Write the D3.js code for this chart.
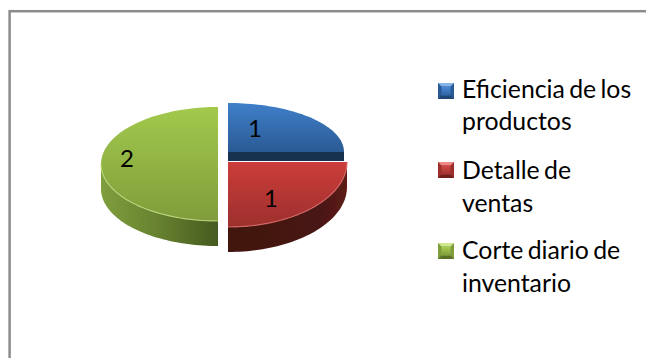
<!DOCTYPE html>
<html><head><meta charset="utf-8">
<script src="https://cdn.jsdelivr.net/npm/d3@7/dist/d3.min.js"></script>
<style>html,body{margin:0;padding:0;background:#fff}svg{display:block}</style>
</head><body><svg id="c" width="646" height="358"></svg>
<script>
const categories = ["Eficiencia de los productos", "Detalle de ventas", "Corte diario de inventario"];
const legendLines = [["Eficiencia de los", "productos"], ["Detalle de", "ventas"], ["Corte diario de", "inventario"]];
const values = [1, 1, 2];

const svg = d3.select("#c");
const defs = svg.append("defs");
function grad(id, stops, x2, y2) {
  const g = defs.append("linearGradient").attr("id", id).attr("x1", 0).attr("y1", 0).attr("x2", x2).attr("y2", y2);
  stops.forEach(s => g.append("stop").attr("offset", s[0]).attr("stop-color", s[1]));
}
grad("gB", [[0, "#3f7fc9"], [1, "#2a5a94"]], 0, 1);
grad("gR", [[0, "#cc3d3a"], [1, "#9c2f2d"]], 0, 1);
grad("gG", [[0, "#a2c94c"], [1, "#7f9d3b"]], 0, 1);
grad("sR", [[0, "#3f1210"], [0.75, "#481512"], [1, "#5e1c18"]], 1, 0);
grad("sG", [[0, "#7f9e3d"], [0.5, "#66812f"], [1, "#455a20"]], 1, 0);
grad("lB", [[0, "#4a8bd6"], [1, "#2f64a3"]], 0, 1);
grad("lR", [[0, "#d04a46"], [1, "#a03230"]], 0, 1);
grad("lG", [[0, "#a8cf55"], [1, "#7f9d3b"]], 0, 1);
defs.append("filter").attr("id", "soft").append("feGaussianBlur").attr("stdDeviation", 0.45);

const sliceStyle = [
  {cx: 228, cy: 152, rx: 116, ry: 49, depth: 9,  fill: "url(#gB)", side: "#163050", rim: null},
  {cx: 228, cy: 162, rx: 119, ry: 65, depth: 25, fill: "url(#gR)", side: "url(#sR)", rim: "#d96a66"},
  {cx: 218, cy: 164, rx: 117, ry: 57, depth: 25, fill: "url(#gG)", side: "url(#sG)", rim: "#bcd97c"}
];
const labelPos = [[255, 137], [271, 207], [127, 167]];

svg.append("rect").attr("x", 9.6).attr("y", 11.2).attr("width", 650).attr("height", 360)
  .attr("fill", "#fff").attr("stroke", "#8c8c8c").attr("stroke-width", 2.5);

const arcs = d3.pie().sort(null).startAngle(0).endAngle(2 * Math.PI)(values);
const rimPts = (a0, a1, s, dy) => d3.range(0, 49).map(i => {
  const a = a0 + (a1 - a0) * i / 48;
  return [s.cx + s.rx * Math.sin(a), s.cy + dy - s.ry * Math.cos(a)];
});
const line = d3.line();
const pie = svg.append("g").attr("filter", "url(#soft)");

[2, 1].forEach(i => {
  const s = sliceStyle[i], d = arcs[i];
  const lo = Math.max(d.startAngle, Math.PI / 2), hi = Math.min(d.endAngle, 3 * Math.PI / 2);
  const top = rimPts(lo, hi, s, 0), bot = rimPts(hi, lo, s, s.depth);
  pie.append("path").attr("d", line(top.concat(bot)) + "Z").attr("fill", s.side);
});
{
  const s = sliceStyle[0];
  pie.append("rect").attr("x", s.cx).attr("y", s.cy).attr("width", s.rx).attr("height", s.depth).attr("fill", s.side);
}
arcs.forEach((d, i) => {
  const s = sliceStyle[i];
  const pts = rimPts(d.startAngle, d.endAngle, s, 0);
  pie.append("path").attr("d", line([[s.cx, s.cy]].concat(pts)) + "Z").attr("fill", s.fill);
  if (s.rim) {
    const lo = Math.max(d.startAngle, Math.PI / 2), hi = Math.min(d.endAngle, 3 * Math.PI / 2);
    pie.append("path").attr("d", line(rimPts(lo, hi, s, 0))).attr("fill", "none")
      .attr("stroke", s.rim).attr("stroke-width", 1.2).attr("opacity", .85);
  }
});
arcs.forEach((d, i) => {
  svg.append("text").attr("x", labelPos[i][0]).attr("y", labelPos[i][1]).attr("text-anchor", "middle")
    .attr("font-family", "Lato").attr("font-size", 24).attr("fill", "#000").text(d.data);
});

const legendFills = ["url(#lB)", "url(#lR)", "url(#lG)"];
const bevels = [["#86b4e8", "#2a5a94", "#1f4675"], ["#ee8a86", "#9c2f2d", "#701f1d"], ["#cfe78e", "#7f9d3b", "#5a7029"]];
const legendTop = [83, 162, 243];
const baselines = [[98, 130], [179, 212], [259, 292]];
const m = 16, b = 3.5;
categories.forEach((c, i) => {
  const x = 438, y = legendTop[i];
  const g = svg.append("g").attr("class", "marker");
  g.append("rect").attr("x", x).attr("y", y).attr("width", m).attr("height", m).attr("fill", bevels[i][1]);
  g.append("path").attr("d", line([[x, y], [x + m, y], [x + m - b, y + b], [x + b, y + b]]) + "Z").attr("fill", bevels[i][0]);
  g.append("path").attr("d", line([[x, y + m], [x + m, y + m], [x + m - b, y + m - b], [x + b, y + m - b]]) + "Z").attr("fill", bevels[i][2]);
  g.append("rect").attr("x", x + b).attr("y", y + b).attr("width", m - 2 * b).attr("height", m - 2 * b).attr("fill", legendFills[i]);
  legendLines[i].forEach((t, j) => {
    svg.append("text").attr("x", 462).attr("y", baselines[i][j])
      .attr("font-family", "Lato").attr("font-size", 24.8).attr("word-spacing", -2).attr("fill", "#000").text(t);
  });
});
</script></body></html>
